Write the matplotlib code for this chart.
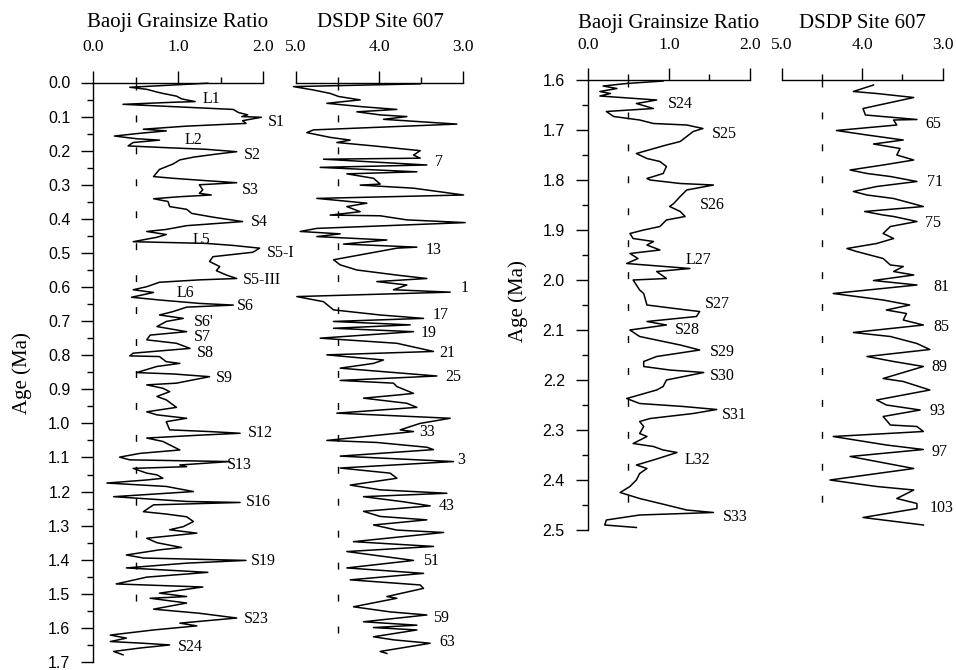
import numpy as np
import matplotlib
matplotlib.use('Agg')
import matplotlib.pyplot as plt

plt.rcParams['font.family'] = 'Liberation Serif'

# --- Baoji grainsize ratio, 0.0 - 1.7 Ma (age, ratio) ---
baoji_a_age = [0.002, 0.014, 0.020, 0.028, 0.032, 0.040, 0.048, 0.056, 0.058, 0.064, 0.069, 0.079,
               0.088, 0.095, 0.100, 0.102, 0.112, 0.120, 0.128, 0.137, 0.142, 0.149, 0.157, 0.165,
               0.169, 0.176, 0.186, 0.190, 0.196, 0.203, 0.210, 0.219, 0.227, 0.239, 0.255, 0.276,
               0.281, 0.288, 0.294, 0.300, 0.315, 0.325, 0.330, 0.335, 0.341, 0.349, 0.364, 0.372,
               0.384, 0.395, 0.408, 0.415, 0.420, 0.431, 0.437, 0.446, 0.454, 0.467, 0.472, 0.478,
               0.486, 0.498, 0.511, 0.525, 0.540, 0.552, 0.565, 0.575, 0.579, 0.586, 0.599, 0.608,
               0.616, 0.630, 0.638, 0.648, 0.653, 0.659, 0.672, 0.682, 0.692, 0.701, 0.716, 0.724,
               0.731, 0.741, 0.755, 0.765, 0.780, 0.794, 0.802, 0.804, 0.819, 0.824, 0.833, 0.851,
               0.855, 0.863, 0.882, 0.887, 0.897, 0.907, 0.921, 0.931, 0.953, 0.966, 0.975, 0.985,
               0.995, 1.019, 1.024, 1.029, 1.035, 1.043, 1.053, 1.068, 1.078, 1.088, 1.099, 1.107,
               1.112, 1.122, 1.127, 1.132, 1.146, 1.151, 1.161, 1.166, 1.175, 1.185, 1.200, 1.215,
               1.229, 1.232, 1.239, 1.259, 1.266, 1.274, 1.288, 1.303, 1.312, 1.322, 1.337, 1.350,
               1.364, 1.371, 1.386, 1.395, 1.402, 1.410, 1.424, 1.437, 1.451, 1.471, 1.480, 1.498,
               1.508, 1.513, 1.527, 1.545, 1.557, 1.571, 1.586, 1.594, 1.606, 1.621, 1.630, 1.640,
               1.645, 1.650, 1.659, 1.669, 1.679]
baoji_a_ratio = [1.35, 0.43, 0.63, 0.75, 0.82, 0.98, 1.04, 1.20, 0.94, 0.35, 0.78, 1.65,
                 1.71, 1.82, 1.75, 1.98, 1.76, 1.80, 1.10, 0.59, 0.86, 0.55, 0.25, 0.51,
                 0.78, 0.47, 0.41, 0.75, 1.33, 1.69, 1.45, 1.18, 1.02, 0.94, 0.78, 0.71,
                 0.94, 1.33, 1.69, 1.25, 1.29, 1.25, 1.39, 1.02, 0.71, 0.88, 0.90, 1.10,
                 1.16, 1.41, 1.76, 1.37, 1.10, 0.86, 0.63, 0.86, 0.75, 0.47, 1.33, 1.65,
                 1.96, 1.88, 1.41, 1.37, 1.49, 1.45, 1.57, 1.69, 1.25, 0.78, 0.63, 0.47,
                 0.71, 0.45, 0.78, 1.25, 1.65, 1.10, 0.94, 0.78, 1.06, 0.86, 0.75, 0.94,
                 1.10, 0.67, 0.63, 0.98, 1.14, 0.47, 0.43, 0.78, 0.86, 1.02, 0.75, 0.51,
                 0.94, 1.37, 0.98, 0.63, 0.82, 0.90, 0.75, 0.86, 0.98, 0.63, 0.75, 1.10,
                 0.86, 0.90, 1.37, 1.73, 1.22, 0.63, 0.82, 0.94, 1.02, 0.55, 0.31, 0.43,
                 1.61, 1.02, 1.10, 0.47, 0.63, 0.75, 0.82, 0.63, 0.16, 0.86, 1.18, 0.24,
                 1.10, 1.73, 0.71, 0.59, 0.86, 1.10, 1.18, 1.06, 0.90, 1.22, 0.63, 0.75,
                 1.04, 0.78, 0.39, 0.59, 1.80, 1.10, 0.39, 1.35, 0.63, 0.27, 1.29, 0.78,
                 1.10, 0.67, 1.10, 0.71, 1.25, 1.69, 1.02, 1.22, 0.71, 0.20, 0.39, 0.20,
                 0.59, 0.90, 0.55, 0.24, 0.35]

# --- DSDP Site 607, 0.0 - 1.7 Ma (age, d18O) ---
dsdp_a_age = [0.004, 0.012, 0.022, 0.032, 0.041, 0.051, 0.061, 0.071, 0.079, 0.086, 0.095, 0.100,
              0.108, 0.122, 0.139, 0.147, 0.161, 0.169, 0.176, 0.186, 0.196, 0.200, 0.213, 0.222,
              0.225, 0.242, 0.249, 0.262, 0.268, 0.281, 0.298, 0.301, 0.310, 0.330, 0.340, 0.354,
              0.364, 0.379, 0.389, 0.391, 0.403, 0.411, 0.428, 0.437, 0.444, 0.452, 0.462, 0.474,
              0.483, 0.486, 0.520, 0.535, 0.550, 0.565, 0.575, 0.584, 0.594, 0.608, 0.615, 0.628,
              0.643, 0.667, 0.682, 0.692, 0.701, 0.711, 0.721, 0.731, 0.750, 0.765, 0.789, 0.799,
              0.814, 0.824, 0.838, 0.861, 0.874, 0.882, 0.892, 0.912, 0.917, 0.926, 0.941, 0.953,
              0.970, 0.985, 1.000, 1.019, 1.024, 1.050, 1.056, 1.070, 1.077, 1.096, 1.112, 1.131,
              1.146, 1.161, 1.181, 1.195, 1.205, 1.215, 1.230, 1.242, 1.258, 1.273, 1.283, 1.298,
              1.313, 1.320, 1.347, 1.361, 1.376, 1.402, 1.424, 1.440, 1.459, 1.474, 1.484, 1.508,
              1.513, 1.538, 1.553, 1.562, 1.582, 1.592, 1.599, 1.606, 1.626, 1.635, 1.645, 1.669,
              1.675]
dsdp_a_d18o = [3.51, 5.03, 4.79, 4.59, 4.49, 4.23, 4.63, 4.21, 3.79, 4.27, 3.99, 3.67,
               3.95, 3.07, 4.79, 4.87, 4.59, 4.35, 4.51, 4.07, 3.67, 3.51, 3.59, 3.51,
               4.67, 3.43, 4.71, 3.55, 4.39, 4.07, 3.99, 4.23, 3.59, 2.99, 4.75, 4.15,
               4.39, 4.23, 4.59, 3.99, 3.67, 2.97, 4.75, 4.95, 4.47, 4.75, 3.91, 4.43,
               3.55, 3.79, 4.55, 4.47, 4.27, 3.79, 3.43, 4.03, 3.67, 3.83, 3.15, 4.99,
               4.67, 4.55, 3.99, 3.47, 4.55, 3.63, 4.55, 3.59, 4.71, 3.79, 3.35, 4.63,
               3.95, 4.07, 4.47, 3.31, 4.47, 3.83, 3.79, 3.59, 3.79, 4.19, 3.67, 3.55,
               4.51, 3.15, 3.51, 3.75, 3.59, 4.63, 4.03, 3.43, 3.35, 4.47, 3.11, 4.47,
               3.87, 3.79, 4.35, 3.99, 3.19, 4.19, 3.71, 3.39, 4.19, 3.99, 3.43, 4.07,
               3.79, 3.23, 4.31, 3.35, 4.39, 3.59, 4.39, 3.47, 4.35, 3.51, 3.47, 3.91,
               3.79, 4.31, 3.87, 3.43, 4.19, 3.55, 4.07, 3.55, 4.07, 3.83, 3.39, 3.99,
               3.91]

# --- Baoji grainsize ratio, 1.6 - 2.5 Ma ---
baoji_b_age = [1.602, 1.607, 1.612, 1.617, 1.623, 1.627, 1.632, 1.640, 1.647, 1.657, 1.663, 1.673,
               1.680, 1.687, 1.690, 1.697, 1.703, 1.713, 1.723, 1.730, 1.747, 1.757, 1.763, 1.773,
               1.787, 1.797, 1.800, 1.807, 1.810, 1.820, 1.833, 1.847, 1.853, 1.863, 1.873, 1.880,
               1.893, 1.900, 1.907, 1.917, 1.923, 1.930, 1.940, 1.947, 1.957, 1.967, 1.977, 1.983,
               1.997, 2.000, 2.020, 2.027, 2.050, 2.060, 2.063, 2.073, 2.083, 2.090, 2.100, 2.113,
               2.130, 2.140, 2.153, 2.163, 2.173, 2.180, 2.185, 2.200, 2.213, 2.220, 2.237, 2.247,
               2.253, 2.259, 2.267, 2.277, 2.283, 2.293, 2.307, 2.313, 2.327, 2.333, 2.340, 2.345,
               2.360, 2.370, 2.377, 2.387, 2.400, 2.413, 2.425, 2.437, 2.450, 2.460, 2.465, 2.470,
               2.480, 2.490, 2.495]
baoji_b_ratio = [0.93, 0.48, 0.19, 0.36, 0.15, 0.28, 0.15, 0.85, 0.60, 0.81, 0.23, 0.32,
                 0.64, 0.81, 1.22, 1.42, 1.30, 1.22, 1.14, 0.97, 0.60, 0.73, 0.89, 0.97,
                 0.93, 0.73, 0.77, 1.14, 1.55, 1.22, 1.14, 1.06, 1.01, 1.14, 1.20, 0.97,
                 0.89, 0.69, 0.52, 0.56, 0.81, 0.73, 0.89, 0.52, 0.62, 0.48, 1.26, 0.85,
                 0.97, 0.56, 0.64, 0.69, 0.73, 1.22, 1.38, 1.34, 0.73, 0.97, 0.52, 0.64,
                 1.14, 1.38, 0.85, 0.69, 0.69, 1.01, 1.43, 0.97, 0.93, 0.85, 0.48, 0.64,
                 1.18, 1.59, 1.30, 0.77, 0.64, 0.69, 0.64, 0.73, 0.56, 0.81, 0.93, 1.10,
                 0.81, 0.60, 0.73, 0.64, 0.60, 0.52, 0.40, 0.64, 0.97, 1.22, 1.55, 0.64,
                 0.23, 0.21, 0.60]

# --- DSDP Site 607, 1.6 - 2.5 Ma ---
dsdp_b_age = [1.610, 1.623, 1.627, 1.635, 1.657, 1.670, 1.679, 1.680, 1.690, 1.701, 1.710, 1.720,
              1.728, 1.737, 1.750, 1.760, 1.770, 1.780, 1.787, 1.793, 1.803, 1.813, 1.823, 1.830,
              1.837, 1.853, 1.863, 1.870, 1.873, 1.883, 1.893, 1.907, 1.917, 1.927, 1.937, 1.943,
              1.957, 1.970, 1.973, 1.983, 1.990, 2.001, 2.010, 2.027, 2.040, 2.050, 2.060, 2.067,
              2.080, 2.090, 2.105, 2.113, 2.127, 2.139, 2.153, 2.163, 2.173, 2.197, 2.203, 2.220,
              2.240, 2.250, 2.260, 2.273, 2.290, 2.293, 2.303, 2.313, 2.330, 2.339, 2.353, 2.363,
              2.377, 2.400, 2.413, 2.420, 2.437, 2.447, 2.457, 2.475, 2.490]
dsdp_b_d18o = [3.86, 4.11, 3.82, 3.36, 3.99, 3.96, 3.32, 3.61, 3.57, 4.32, 3.94, 3.49,
               3.86, 3.53, 3.57, 3.36, 3.74, 4.15, 3.94, 3.65, 3.32, 3.82, 4.11, 3.94,
               3.61, 3.24, 3.97, 3.74, 3.61, 3.32, 3.65, 3.74, 3.61, 3.82, 4.19, 4.07,
               3.74, 3.65, 3.49, 3.61, 3.36, 3.86, 3.32, 4.36, 3.74, 3.41, 3.70, 3.45,
               3.49, 3.24, 4.11, 3.65, 3.32, 3.16, 3.94, 3.61, 3.24, 3.74, 3.49, 3.16,
               3.82, 3.70, 3.28, 3.74, 3.65, 3.32, 3.24, 4.36, 3.70, 3.24, 4.15, 3.82,
               3.36, 4.40, 3.82, 3.36, 3.57, 3.32, 3.32, 3.99, 3.24]

# --- stage labels: (text, x, age) ---
baoji_a_labels = ['L1', 'S1', 'L2', 'S2', 'S3', 'S4', 'L5', 'S5-I', 'S5-III', 'L6', 'S6', "S6'",
                  'S7', 'S8', 'S9', 'S12', 'S13', 'S16', 'S19', 'S23', 'S24']
baoji_a_lx = [1.29, 2.06, 1.08, 1.78, 1.75, 1.86, 1.17, 2.04, 1.76, 0.98, 1.69, 1.18,
              1.19, 1.22, 1.45, 1.82, 1.58, 1.80, 1.86, 1.78, 1.00]
baoji_a_ly = [0.048, 0.115, 0.169, 0.213, 0.315, 0.408, 0.462, 0.499, 0.579, 0.618, 0.655, 0.702,
              0.746, 0.794, 0.867, 1.027, 1.122, 1.232, 1.405, 1.574, 1.655]

dsdp_a_labels = ['7', '13', '1', '17', '19', '21', '25', '33', '3', '43', '51', '59', '63']
dsdp_a_lx = [3.33, 3.45, 3.03, 3.36, 3.51, 3.28, 3.21, 3.52, 3.07, 3.29, 3.47, 3.36, 3.28]
dsdp_a_ly = [0.232, 0.491, 0.604, 0.682, 0.736, 0.794, 0.863, 1.024, 1.107, 1.242, 1.405, 1.571, 1.642]

baoji_b_labels = ['S24', 'S25', 'S26', 'L27', 'S27', 'S28', 'S29', 'S30', 'S31', 'L32', 'S33']
baoji_b_lx = [0.99, 1.53, 1.38, 1.21, 1.45, 1.08, 1.51, 1.50, 1.65, 1.20, 1.66]
baoji_b_ly = [1.647, 1.708, 1.850, 1.960, 2.047, 2.100, 2.143, 2.192, 2.269, 2.360, 2.473]

dsdp_b_labels = ['65', '71', '75', '81', '85', '89', '93', '97', '103']
dsdp_b_lx = [3.21, 3.20, 3.22, 3.12, 3.12, 3.14, 3.16, 3.14, 3.16]
dsdp_b_ly = [1.688, 1.805, 1.885, 2.013, 2.093, 2.173, 2.261, 2.343, 2.455]

W, H = 956, 670
fig = plt.figure(figsize=(W / 100, H / 100), dpi=100)


def px_box(x0, x1, y0, y1):
    return [x0 / W, 1 - y1 / H, (x1 - x0) / W, (y1 - y0) / H]


ax1 = fig.add_axes(px_box(93.3, 263.0, 82.5, 662.0))
ax2 = fig.add_axes(px_box(296.0, 462.7, 82.5, 662.0))
ax3 = fig.add_axes(px_box(587.7, 750.0, 80.0, 530.0))
ax4 = fig.add_axes(px_box(781.7, 942.7, 80.0, 530.0))


def style(ax, kind, ylo, yhi, show_y):
    for s in ['bottom', 'right']:
        ax.spines[s].set_visible(False)
    ax.spines['left'].set_visible(show_y)
    ax.spines['top'].set_linewidth(1.0)
    ax.spines['left'].set_linewidth(1.0)
    ax.xaxis.tick_top()
    if kind == 'baoji':
        ax.set_xlim(0, 2.0)
        ax.set_xticks([0, 1, 2])
        ax.set_xticklabels(['0.0', '1.0', '2.0'], fontsize=12.5)
        ax.set_xticks([0.5, 1.5], minor=True)
    else:
        ax.set_xlim(5.0, 3.0)
        ax.set_xticks([5, 4, 3])
        ax.set_xticklabels(['5.0', '4.0', '3.0'], fontsize=12.5)
        ax.set_xticks([4.5, 3.5], minor=True)
    ax.tick_params(axis='x', which='major', direction='out', length=8.5, width=1.0, pad=11)
    ax.tick_params(axis='x', which='minor', direction='out', length=4.5, width=1.0)
    ax.set_ylim(yhi, ylo)
    if show_y:
        ticks = np.round(np.arange(ylo, yhi + 0.001, 0.1), 2)
        ax.set_yticks(ticks)
        ax.set_yticklabels([f'{t:.1f}' for t in ticks], fontfamily='Liberation Sans', fontsize=11.5)
        ax.set_yticks(np.round(ticks[:-1] + 0.05, 3), minor=True)
        ax.tick_params(axis='y', which='major', direction='out', length=8.5, width=1.0, pad=8)
        ax.tick_params(axis='y', which='minor', direction='out', length=4, width=1.0)
    else:
        ax.set_yticks([])
    ax.patch.set_alpha(0)


style(ax1, 'baoji', 0.0, 1.7, True)
style(ax2, 'dsdp', 0.0, 1.7, False)
style(ax3, 'baoji', 1.6, 2.5, True)
style(ax4, 'dsdp', 1.6, 2.5, False)

dash = (0, (5, 18))
ax1.plot([0.5, 0.5], [0.0, 1.58], color='black', lw=1.0, ls=dash)
ax2.plot([4.5, 4.5], [0.0, 1.65], color='black', lw=1.0, ls=dash)
ax3.plot([0.5, 0.5], [1.6, 2.47], color='black', lw=1.0, ls=dash)
ax4.plot([4.5, 4.5], [1.6, 2.48], color='black', lw=1.0, ls=dash)

ax1.plot(baoji_a_ratio, baoji_a_age, color='black', lw=1.1, clip_on=False)
ax2.plot(dsdp_a_d18o, dsdp_a_age, color='black', lw=1.1, clip_on=False)
ax3.plot(baoji_b_ratio, baoji_b_age, color='black', lw=1.1, clip_on=False)
ax4.plot(dsdp_b_d18o, dsdp_b_age, color='black', lw=1.1, clip_on=False)

for ax, names, xs, ys in [(ax1, baoji_a_labels, baoji_a_lx, baoji_a_ly),
                          (ax2, dsdp_a_labels, dsdp_a_lx, dsdp_a_ly),
                          (ax3, baoji_b_labels, baoji_b_lx, baoji_b_ly),
                          (ax4, dsdp_b_labels, dsdp_b_lx, dsdp_b_ly)]:
    for n, x, y in zip(names, xs, ys):
        ax.text(x, y, n, fontsize=11.5, ha='left', va='center', clip_on=False)

# panel titles
for xc, yb, t in [(178, 27, 'Baoji Grainsize Ratio'), (380, 27, 'DSDP Site 607'),
                  (669, 28, 'Baoji Grainsize Ratio'), (862, 28, 'DSDP Site 607')]:
    fig.text(xc / W, 1 - yb / H, t, fontsize=15, ha='center', va='baseline')

fig.text(22 / W, 1 - 373 / H, 'Age (Ma)', fontsize=15, rotation=90, ha='center', va='center')
fig.text(518 / W, 1 - 301 / H, 'Age (Ma)', fontsize=15, rotation=90, ha='center', va='center')

fig.savefig('out.png', dpi=100)
